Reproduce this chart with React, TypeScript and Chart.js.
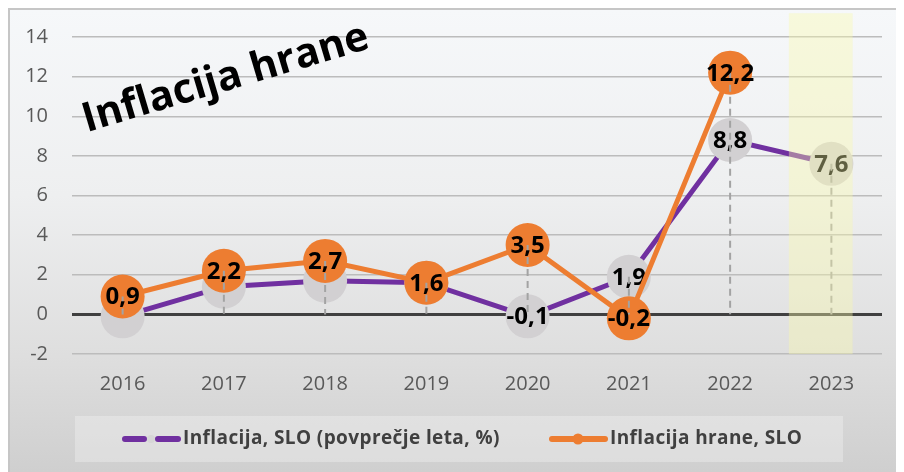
import React, { useEffect, useRef } from "react";
import { Chart, registerables } from "chart.js";

Chart.register(...registerables);

const years = ["2016", "2017", "2018", "2019", "2020", "2021", "2022", "2023"];
const inflationSLO = [-0.1, 1.4, 1.7, 1.6, -0.1, 1.9, 8.8, 7.6];
const foodInflation: (number | null)[] = [0.9, 2.2, 2.7, 1.6, 3.5, -0.2, 12.2, null];
const yMin = -2;
const yMax = 14;
const yStep = 2;
const highlightYear = "2023";
const bandTopValue = 15.2;
const titleText = "Inflacija hrane";
const seriesNames = ["Inflacija, SLO (povprečje leta, %)", "Inflacija hrane, SLO"];

const PURPLE = "#7030a0";
const ORANGE = "#ed7d31";
const LABEL_FONT = "bold 24px 'Open Sans', sans-serif";

const fmt = (v: number) => v.toFixed(1).replace(".", ",");

const decor = {
  id: "decor",
  afterDatasetDraw(chart: any, args: any) {
    const ctx = chart.ctx;
    const xs = chart.scales.x;
    const ys = chart.scales.y;
    const meta = args.meta;
    const data = chart.data.datasets[args.index].data as (number | null)[];
    if (args.index === 0) {
      meta.data.forEach((pt: any, i: number) => {
        const v = data[i];
        if (v == null) return;
        ctx.save();
        ctx.fillStyle = "#d2d0d2";
        ctx.beginPath();
        ctx.arc(pt.x, pt.y, 22, 0, Math.PI * 2);
        ctx.fill();
        const other = foodInflation[i];
        const hidden = other != null && Math.abs(other - v) < 1.5;
        if (!hidden) {
          ctx.fillStyle = "#000";
          ctx.font = LABEL_FONT;
          ctx.textAlign = "center";
          ctx.textBaseline = "middle";
          ctx.fillText(fmt(v), pt.x, pt.y + 1);
        }
        ctx.restore();
      });
    }
    if (args.index === 1) {
      ctx.save();
      ctx.strokeStyle = "#a3a3a3";
      ctx.lineWidth = 2;
      ctx.setLineDash([7, 5]);
      years.forEach((_, i) => {
        const vals = [inflationSLO[i], foodInflation[i]].filter((v) => v != null) as number[];
        if (!vals.length) return;
        const top = Math.max(...vals);
        const px = xs.getPixelForValue(i);
        ctx.beginPath();
        ctx.moveTo(px, ys.getPixelForValue(top));
        ctx.lineTo(px, ys.getPixelForValue(0));
        ctx.stroke();
      });
      ctx.restore();
      meta.data.forEach((pt: any, i: number) => {
        const v = data[i];
        if (v == null) return;
        ctx.save();
        ctx.fillStyle = "#000";
        ctx.font = LABEL_FONT;
        ctx.textAlign = "center";
        ctx.textBaseline = "middle";
        ctx.fillText(fmt(v), pt.x, pt.y + 1);
        ctx.restore();
      });
    }
  },
  afterDatasetsDraw(chart: any) {
    const ctx = chart.ctx;
    const xs = chart.scales.x;
    const ys = chart.scales.y;
    const idx = years.indexOf(highlightYear);
    const cx = xs.getPixelForValue(idx);
    const cw = xs.getPixelForValue(1) - xs.getPixelForValue(0);
    const left = cx - 0.42 * cw;
    const right = cx + 0.21 * cw;
    const top = ys.getPixelForValue(bandTopValue);
    const bottom = ys.getPixelForValue(yMin);
    ctx.save();
    ctx.fillStyle = "rgba(250,250,170,0.38)";
    ctx.fillRect(left, top, right - left, bottom - top);
    ctx.restore();
  },
  afterDraw(chart: any) {
    const ctx = chart.ctx;
    ctx.save();
    ctx.translate(219, 80);
    ctx.rotate((-16.5 * Math.PI) / 180);
    ctx.font = "bold 41px 'Open Sans', sans-serif";
    ctx.fillStyle = "#000";
    ctx.textAlign = "center";
    ctx.textBaseline = "alphabetic";
    ctx.fillText(titleText, 0, 0);
    ctx.restore();

    ctx.save();
    ctx.fillStyle = "rgba(255,255,255,0.28)";
    ctx.fillRect(65, 406, 768, 46);
    const cy = 429;
    ctx.lineCap = "round";
    ctx.lineWidth = 6;
    ctx.strokeStyle = PURPLE;
    ctx.beginPath();
    ctx.moveTo(115, cy);
    ctx.lineTo(134, cy);
    ctx.moveTo(148, cy);
    ctx.lineTo(168, cy);
    ctx.stroke();
    ctx.fillStyle = "#d6d6d6";
    ctx.beginPath();
    ctx.arc(141, cy, 4, 0, Math.PI * 2);
    ctx.fill();

    ctx.strokeStyle = ORANGE;
    ctx.beginPath();
    ctx.moveTo(542, cy);
    ctx.lineTo(595, cy);
    ctx.stroke();
    ctx.fillStyle = ORANGE;
    ctx.beginPath();
    ctx.arc(568, cy, 5.5, 0, Math.PI * 2);
    ctx.fill();

    ctx.fillStyle = "#404040";
    ctx.font = "bold 19px 'Open Sans', sans-serif";
    (ctx as any).letterSpacing = "0.4px";
    ctx.textAlign = "left";
    ctx.textBaseline = "middle";
    ctx.fillText(seriesNames[0], 173, cy);
    ctx.fillText(seriesNames[1], 600, cy);
    ctx.restore();
  },
};

export default function App() {
  const ref = useRef<HTMLCanvasElement | null>(null);
  useEffect(() => {
    document.documentElement.style.overflow = "hidden";
    const canvas = ref.current;
    if (!canvas) return;
    const chart = new Chart(canvas, {
      type: "line",
      data: {
        labels: years,
        datasets: [
          {
            label: seriesNames[0],
            data: inflationSLO,
            borderColor: PURPLE,
            backgroundColor: PURPLE,
            borderWidth: 5,
            pointRadius: 0,
            order: 1,
          },
          {
            label: seriesNames[1],
            data: foodInflation,
            borderColor: ORANGE,
            backgroundColor: ORANGE,
            borderWidth: 5,
            pointRadius: 22,
            pointBorderWidth: 0,
            pointBackgroundColor: ORANGE,
            order: 0,
          },
        ],
      },
      options: {
        animation: false,
        responsive: false,
        events: [],
        layout: { padding: { top: 27, right: 20, bottom: 68, left: 0 } },
        plugins: {
          legend: { display: false },
          tooltip: { enabled: false },
          title: { display: false },
        },
        scales: {
          x: {
            offset: true,
            grid: { display: false, drawTicks: false },
            border: { display: false },
            ticks: {
              color: "#595959",
              font: { family: "'Open Sans', sans-serif", size: 20 },
              padding: 18,
            },
            afterFit: (s: any) => {
              s.height = 50;
            },
          },
          y: {
            min: yMin,
            max: yMax,
            grid: {
              drawTicks: false,
              color: (c: any) => (c.tick && c.tick.value === 0 ? "#404040" : "#bcbcbc"),
              lineWidth: (c: any) => (c.tick && c.tick.value === 0 ? 3 : 1.5),
            },
            border: { display: false },
            ticks: {
              stepSize: yStep,
              color: "#595959",
              font: { family: "'Open Sans', sans-serif", size: 20 },
              padding: 24,
            },
            afterFit: (s: any) => {
              s.width = 62;
              s.paddingTop = 0;
              s.paddingBottom = 0;
            },
          },
        },
      },
      plugins: [decor],
    } as any);
    return () => chart.destroy();
  }, []);

  return (
    <div
      style={{
        position: "relative",
        width: 896,
        height: 464,
        boxSizing: "border-box",
        borderTop: "2px solid #c6c6c6",
        borderLeft: "2px solid #c6c6c6",
        background: "linear-gradient(to bottom, #f6f8fa 0%, #eeeff0 40%, #dedede 75%, #cfcfcf 100%)",
      }}
    >
      <canvas ref={ref} width={894} height={462} style={{ display: "block" }} />
    </div>
  );
}
